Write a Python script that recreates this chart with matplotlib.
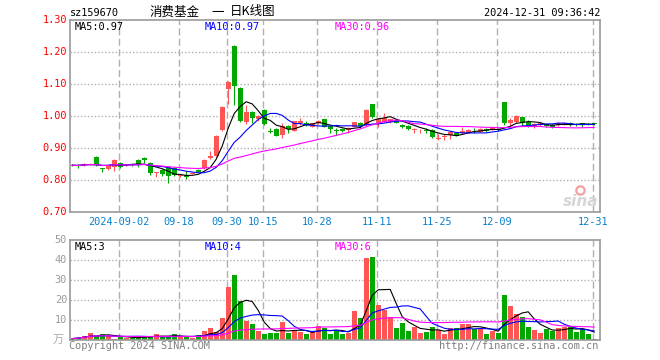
import matplotlib
matplotlib.use("Agg")
import matplotlib.pyplot as plt
import matplotlib.transforms as mtransforms
import numpy as np
import pandas as pd

plt.rcParams['font.family'] = ['DejaVu Sans Mono', 'Noto Sans CJK SC']

# daily candles 2024-08-21 .. 2024-12-31
opens = [0.848, 0.848, 0.846, 0.848, 0.873, 0.835, 0.834, 0.841, 0.853, 0.846,
         0.849, 0.8635, 0.870, 0.853, 0.822, 0.832, 0.841, 0.837, 0.811, 0.817,
         0.820, 0.832, 0.837, 0.869, 0.876, 0.955, 1.085, 1.218, 1.088, 0.981,
         1.0125, 0.991, 1.019, 0.952, 0.959, 0.941, 0.969, 0.954, 0.979, 0.978,
         0.967, 0.977, 0.990, 0.969, 0.955, 0.959, 0.956, 0.967, 0.979, 0.972,
         1.036, 0.979, 0.982, 0.981, 0.988, 0.972, 0.970, 0.957, 0.955, 0.955,
         0.956, 0.929, 0.934, 0.941, 0.946, 0.946, 0.948, 0.959, 0.951, 0.959,
         0.958, 0.960, 1.044, 0.977, 0.980, 0.996, 0.981, 0.969, 0.972, 0.974,
         0.972, 0.972, 0.974, 0.978, 0.975, 0.976, 0.975, 0.976]
highs = [0.851, 0.849, 0.852, 0.853, 0.874, 0.836, 0.848, 0.866, 0.855, 0.851,
         0.850, 0.865, 0.871, 0.855, 0.825, 0.834, 0.843, 0.840, 0.818, 0.828,
         0.824, 0.834, 0.865, 0.892, 0.942, 1.032, 1.108, 1.221, 1.090, 1.035,
         1.015, 1.002, 1.021, 0.964, 0.961, 0.977, 0.971, 0.985, 0.995, 0.985,
         0.979, 0.986, 0.992, 0.970, 0.961, 0.961, 0.965, 0.982, 0.981, 1.021,
         1.039, 0.993, 1.008, 0.992, 0.990, 0.975, 0.972, 0.961, 0.960, 0.961,
         0.958, 0.944, 0.944, 0.953, 0.948, 0.965, 0.958, 0.961, 0.961, 0.961,
         0.966, 0.962, 1.045, 0.993, 1.002, 0.998, 0.988, 0.979, 0.979, 0.976,
         0.974, 0.980, 0.980, 0.980, 0.977, 0.979, 0.977, 0.977]
lows = [0.843, 0.836, 0.845, 0.846, 0.845, 0.826, 0.832, 0.827, 0.839, 0.843,
        0.845, 0.841, 0.853, 0.817, 0.809, 0.812, 0.791, 0.813, 0.809, 0.804,
        0.818, 0.824, 0.835, 0.867, 0.873, 0.952, 1.039, 1.035, 0.980, 0.975,
        0.979, 0.985, 0.972, 0.946, 0.937, 0.931, 0.948, 0.952, 0.972, 0.970,
        0.965, 0.975, 0.965, 0.948, 0.941, 0.951, 0.948, 0.965, 0.967, 0.970,
        0.995, 0.967, 0.980, 0.978, 0.977, 0.964, 0.956, 0.946, 0.946, 0.946,
        0.932, 0.925, 0.925, 0.927, 0.937, 0.944, 0.946, 0.948, 0.949, 0.951,
        0.956, 0.953, 0.972, 0.969, 0.978, 0.969, 0.967, 0.961, 0.970, 0.967,
        0.962, 0.970, 0.972, 0.970, 0.969, 0.966, 0.972, 0.973]
closes = [0.846, 0.845, 0.851, 0.851, 0.846, 0.834, 0.846, 0.8635, 0.841, 0.848,
          0.847, 0.850, 0.861, 0.821, 0.824, 0.820, 0.811, 0.815, 0.817, 0.808,
          0.822, 0.826, 0.8635, 0.874, 0.939, 1.027, 1.106, 1.093, 0.983, 1.014,
          0.993, 1.000, 0.974, 0.951, 0.939, 0.969, 0.958, 0.983, 0.983, 0.972,
          0.977, 0.984, 0.967, 0.958, 0.954, 0.954, 0.963, 0.980, 0.969, 1.019,
          0.998, 0.990, 0.993, 0.990, 0.979, 0.967, 0.958, 0.959, 0.957, 0.953,
          0.935, 0.931, 0.936, 0.951, 0.939, 0.954, 0.956, 0.958, 0.959, 0.953,
          0.964, 0.955, 0.979, 0.9875, 1.000, 0.977, 0.969, 0.974, 0.977, 0.969,
          0.967, 0.978, 0.978, 0.973, 0.973, 0.975, 0.974, 0.975]
# volume in 万
volumes = [0.7, 1.2, 2.2, 3.5, 2.2, 2.8, 2.2, 0.5, 1.5, 1.2, 1.2, 1.5, 1.7, 2.2,
           2.8, 1.5, 1.5, 2.8, 1.5, 1.5, 1.2, 2.3,
           4.5, 6.2, 4.2, 11.2, 26.5, 32.5, 19.5, 9.7, 8.0, 4.5, 3.0, 3.5, 3.5,
           9.0, 3.5, 4.5, 4.0, 3.0, 4.0, 7.0, 6.2,
           3.0, 4.5, 3.0, 3.5, 14.5, 11.0, 41.0, 41.5, 17.5, 15.0, 11.5, 6.0,
           8.5, 4.5, 6.5, 3.5,
           4.0, 6.5, 5.0, 3.0, 6.0, 6.0, 8.0, 8.0, 5.5, 5.5, 3.0, 4.5, 3.5,
           22.5, 17.0, 13.0, 11.5, 6.5, 5.0, 3.5, 5.5, 4.5, 6.0, 6.5, 6.5,
           4.0, 5.5, 3.0, 0.7]

tick_idx = [8, 18, 26, 32, 41, 51, 61, 71, 87]
tick_labels = ["2024-09-02", "09-18", "09-30", "10-15", "10-28",
               "11-11", "11-25", "12-09", "12-31"]
price_ticks = [1.30, 1.20, 1.10, 1.00, 0.90, 0.80, 0.70]
vol_ticks = [50, 40, 30, 20, 10]

RED = '#ff5555'
GREEN = '#00a800'
GRID = '#b0b0b0'

W, H = 660, 360
def fx(x):
    return x / W
def fy(y):
    return 1 - y / H

o = np.array(opens); h = np.array(highs); l = np.array(lows); c = np.array(closes)
v = np.array(volumes)
x = np.arange(len(c))
up = c >= o
cols = np.where(up, RED, GREEN)

cs = pd.Series(c)
vs = pd.Series(v)
ma = {n: cs.rolling(n, min_periods=1).mean() for n in (5, 10, 30)}
vma = {n: vs.rolling(n, min_periods=1).mean() for n in (5, 10, 30)}
ma_cols = {5: 'black', 10: '#0000ff', 30: '#ff00ff'}

fig = plt.figure(figsize=(6.6, 3.6), dpi=100)
ax1 = fig.add_axes([fx(70), fy(212), 530 / W, 192 / H])
ax2 = fig.add_axes([fx(70), fy(340), 530 / W, 100 / H])

for ax in (ax1, ax2):
    ax.set_xlim(-0.37, 87.97)
    ax.set_xticks([]); ax.set_yticks([])
    for s in ax.spines.values():
        s.set_color('#999999'); s.set_linewidth(1.2)
    for i in tick_idx:
        ax.axvline(i - 0.25, color=GRID, lw=1.0, ls=(0, (5, 2.5)), zorder=0)

# price panel
ax1.set_ylim(0.70, 1.30)
for p in [0.8, 0.9, 1.0, 1.1, 1.2]:
    ax1.axhline(p, color=GRID, lw=1.0, ls=(0, (1, 1.5)), zorder=0)
ax1.vlines(x, l, h, colors=cols, lw=0.8, zorder=2)
body = np.maximum(np.abs(c - o), 0.002)
ax1.bar(x, body, bottom=np.minimum(o, c), width=0.8, color=cols, zorder=3)
for n in (5, 10, 30):
    ax1.plot(x, ma[n], color=ma_cols[n], lw=0.8, zorder=4)

# volume panel
ax2.set_ylim(0, 50)
for t in [10, 20, 30, 40]:
    ax2.axhline(t, color=GRID, lw=1.0, ls=(0, (1, 1.5)), zorder=0)
ax2.bar(x, v, width=0.8, color=cols, zorder=2)
for n in (5, 10, 30):
    ax2.plot(x, vma[n], color=ma_cols[n], lw=0.8, zorder=3)

fs = 7.4
# axis labels
for p in price_ticks:
    fig.text(fx(67), fy(212 - (p - 0.70) * 320), "%.2f" % p, color='#ff0000',
             ha='right', va='center', fontsize=fs)
for t in vol_ticks:
    fig.text(fx(67), fy(340 - 2 * t), str(t), color='#999999',
             ha='right', va='center', fontsize=fs)
fig.text(fx(64), fy(340), "万", color='#aaaaaa', ha='right', va='center',
         fontsize=8, family=['Noto Sans CJK SC'])

trans = mtransforms.blended_transform_factory(ax1.transData, fig.transFigure)
for i, lab in zip(tick_idx, tick_labels):
    ax1.text(i - 0.25, fy(222), lab, transform=trans, color='#0a80cc',
             ha='center', va='center', fontsize=fs, clip_on=False)

# MA legends
fig.text(fx(75), fy(27), "MA5:0.97", color='black', va='center', fontsize=fs)
fig.text(fx(205), fy(27), "MA10:0.97", color='#0000ff', va='center', fontsize=fs)
fig.text(fx(335), fy(27), "MA30:0.96", color='#ff00ff', va='center', fontsize=fs)
fig.text(fx(75), fy(247), "MA5:3", color='black', va='center', fontsize=fs)
fig.text(fx(205), fy(247), "MA10:4", color='#0000ff', va='center', fontsize=fs)
fig.text(fx(335), fy(247), "MA30:6", color='#ff00ff', va='center', fontsize=fs)

# header
fig.text(fx(70), fy(13), "sz159670", color='black', va='center', fontsize=fs)
fig.text(fx(150), fy(12), "消费基金", va='center', fontsize=9, family=['Noto Sans CJK SC'])
fig.text(fx(211), fy(12), "一", va='center', fontsize=9, family=['Noto Sans CJK SC'])
fig.text(fx(230), fy(12), "日K线图", va='center', fontsize=9, family=['Noto Sans CJK SC'])
fig.text(fx(600), fy(13), "2024-12-31 09:36:42", ha='right', va='center', fontsize=fs)

# footer
fig.text(fx(69), fy(346), "Copyright 2024 SINA.COM", color='#808080', va='center', fontsize=fs)
fig.text(fx(598), fy(346), "http://finance.sina.com.cn", color='#808080', ha='right',
         va='center', fontsize=fs)

# sina watermark
fig.text(fx(581), fy(201), "sina", color='#d6d6d6', ha='center', va='center',
         fontsize=11, style='italic', weight='bold', family=['DejaVu Sans'])
ax1.plot([fx(580)], [fy(190)], 'o', transform=fig.transFigure, ms=6,
         mfc='none', mec='#f2a0a0', mew=1.6, clip_on=False)

fig.savefig("out.png", dpi=100)
